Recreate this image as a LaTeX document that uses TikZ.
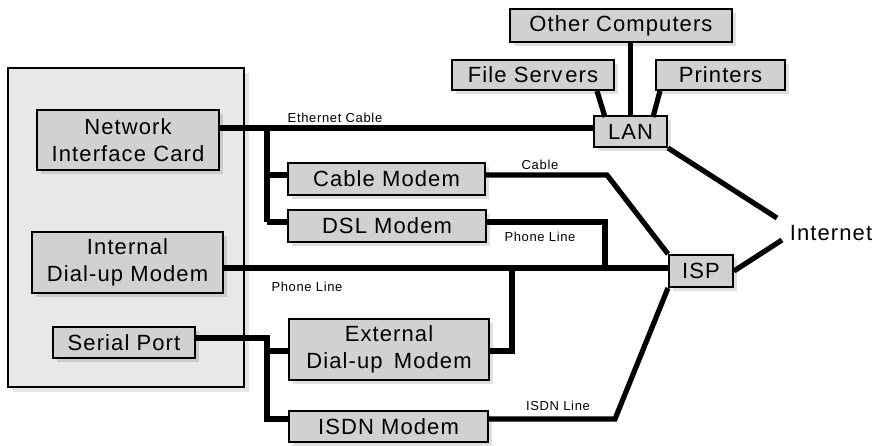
\documentclass[tikz,border=0pt]{standalone}
\usepackage{fontspec}
\setmainfont{Liberation Sans}[LetterSpace=5]
\usetikzlibrary{shadows}
\begin{document}
\begin{tikzpicture}[x=1pt,y=-1pt,
  box/.style={draw=black, line width=2pt, fill=black!18, inner sep=0pt,
    font=\fontsize{22}{27}\selectfont, align=center,
    drop shadow={shadow xshift=4pt, shadow yshift=-4pt, fill=black, opacity=0.12}},
  bigbox/.style={draw=black, line width=1.5pt, fill=black!9, inner sep=0pt,
    drop shadow={shadow xshift=5pt, shadow yshift=-5pt, fill=black, opacity=0.10}},
  wire/.style={line width=5.2pt, line join=miter},
  tag/.style={font=\fontsize{13}{15}\selectfont, inner sep=0pt}]
\useasboundingbox (0,0) rectangle (876,446);

% the computer
\node[bigbox, minimum width=236pt, minimum height=319pt] (pc) at (126,227.5) {};

% bend points of the cabling
\coordinate (eth)  at (267,128);
\coordinate (cm)   at (267,175);
\coordinate (dm)   at (267,222);
\coordinate (cblA) at (607,175);
\coordinate (dslA) at (605,222);
\coordinate (dslB) at (605,268);
\coordinate (ph)   at (240,268);
\coordinate (extA) at (512,351);
\coordinate (extB) at (512,268);
\coordinate (ser)  at (267,338);
\coordinate (serE) at (267,351);
\coordinate (serI) at (267,419);
\coordinate (isdA) at (615,419);
\coordinate (lanI) at (777,218);
\coordinate (ispI) at (782,240);
\coordinate (fsA)  at (597,90);
\coordinate (fsB)  at (605,117);
\coordinate (prA)  at (660,90);
\coordinate (prB)  at (653,117);

% boxes
\node[box, minimum width=182pt, minimum height=60pt] (nic) at (128,140) {Network\\Interface Card};
\node[box, minimum width=191pt, minimum height=61pt] (dial) at (127.5,262.5) {Internal\\Dial-up Modem};
\node[box, minimum width=142pt, minimum height=31pt] (serial) at (124,342.5) {Serial Port};
\node[box, minimum width=197pt, minimum height=32pt] (cable) at (386.5,179) {Cable Modem};
\node[box, minimum width=198pt, minimum height=32pt] (dsl) at (387,226) {DSL Modem};
\node[box, minimum width=200pt, minimum height=61pt] (ext) at (389,349.5) {External\\Dial-up\hspace{4pt} Modem};
\node[box, minimum width=199pt, minimum height=31pt] (isdn) at (388.5,426.5) {ISDN Modem};
\node[box, minimum width=222pt, minimum height=33pt] (other) at (621,25.5) {Other Computers};
\node[box, minimum width=162pt, minimum height=30pt] (fs) at (533,75) {File Serv\hspace{3pt}ers};
\node[box, minimum width=129pt, minimum height=30pt] (pr) at (720.5,75) {Printers};
\node[box, minimum width=73pt, minimum height=31pt] (lan) at (630.5,131.5) {LAN};
\node[box, minimum width=64pt, minimum height=32pt] (isp) at (701,271) {ISP};
\node[font=\fontsize{22}{27}\selectfont, inner sep=0pt] (inet) at (831,233) {Internet};

% cabling from box to box
\draw[wire] (nic.east |- eth) -- (lan.west |- eth);
\draw[wire] (eth) |- (dm);
\draw[wire] (cm) -- (cable.west |- cm);
\draw[wire] (dm) -- (dsl.west |- dm);
\draw[wire] (cable.east |- cm) -- (cblA) -- (isp.north west);
\draw[wire] (dsl.east |- dm) -- (dslA) -- (dslB);
\draw[wire] (dial.east |- ph) -- (isp.west |- ph);
\draw[wire] (serial.east |- ser) -- (ser) -- (serI) -- (isdn.west |- serI);
\draw[wire] (serE) -- (ext.west |- serE);
\draw[wire] (ext.east |- extA) -- (extA) -- (extB);
\draw[wire] (isdn.east |- isdA) -- (isdA) -- (isp.south west);
\draw[wire] (fs.south -| fsA) -- (fsB);
\draw[wire] (pr.south -| prA) -- (prB);
\draw[wire] (other.south -| lan.north) -- (lan.north);
\draw[wire] (lan.south east) -- (lanI);
\draw[wire] (isp.east) -- (ispI);

% cable labels
\node[tag] (lEth) at (335,118) {Ethernet Cable};
\node[tag] (lCbl) at (540,165) {Cable};
\node[tag] (lDsl) at (540,237) {Phone Line};
\node[tag] (lPh)  at (307,287) {Phone Line};
\node[tag] (lIsd) at (558,406) {ISDN Line};
\end{tikzpicture}
\end{document}
